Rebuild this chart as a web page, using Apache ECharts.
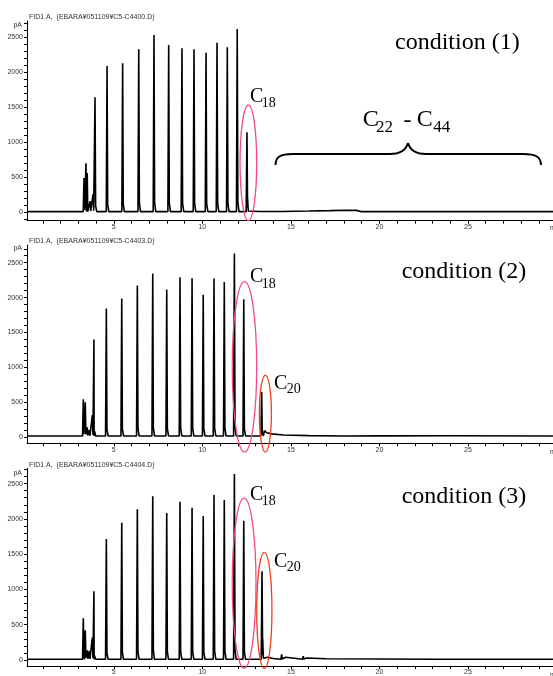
<!DOCTYPE html>
<html><head><meta charset="utf-8">
<script src="https://cdn.jsdelivr.net/npm/echarts@6/dist/echarts.min.js"></script>
<style>html,body{margin:0;padding:0;background:#fff}#c{width:553px;height:676px}</style>
</head><body><div id="c"></div>
<script>
// ---------- data ----------
const fileTitles = ['FID1 A,  (EBARA\u00a5051109\u00a5C5-C4400.D)','FID1 A,  (EBARA\u00a5051109\u00a5C5-C4403.D)','FID1 A,  (EBARA\u00a5051109\u00a5C5-C4404.D)'];
const conditionLabels = ['condition (1)','condition (2)','condition (3)'];
const xTickLabels = [5,10,15,20,25];
const yTickLabels = [0,500,1000,1500,2000,2500];

// panel 1 peaks (retention time, min / height, pA)
const p1Times   = [3.32,3.43,3.50,3.66,3.83,3.94,4.62,5.23,5.50,6.41,7.27,8.10,8.85,9.53,10.21,10.83,11.41,11.97,12.52,12.56];
const p1Heights = [490,699,560,160,260,1640,2086,30,2125,2324,2528,2386,2338,2324,2276,2418,2353,2614,1141,180];
const p1Base = 10;
const p1Extra = [[13.2,12],[14.5,12],[16.0,18],[17.2,24],[18.2,30],[18.7,27],[18.95,10],[22,10]];

// panel 2 peaks
const p2Times   = [3.28,3.39,3.50,3.62,3.79,3.88,4.58,5.45,6.33,7.20,7.99,8.74,9.42,10.05,10.66,11.24,11.81,12.34,13.35];
const p2Heights = [540,497,140,100,315,1400,1843,1987,2173,2345,2116,2292,2278,2039,2273,2225,2632,1977,645];
const p2Base = 15;
const p2Extra = [[13.5,90],[13.65,60],[13.9,45],[14.6,30],[16.0,20],[18,15],[20,16],[24,18]];

// panel 3 peaks
const p3Times   = [3.28,3.39,3.50,3.62,3.79,3.88,4.58,5.15,5.45,6.33,7.20,7.99,8.74,9.42,10.05,10.66,11.24,11.81,12.34,13.37,13.41,14.48,15.70];
const p3Heights = [593,420,137,130,316,975,1714,25,1945,2138,2322,2082,2242,2157,2040,2340,2266,2637,1973,1257,300,80,55];
const p3Base = 10;
const p3Extra = [[13.7,40],[14.0,22],[14.7,40],[15.2,25],[15.9,28],[17,18],[20,14],[23,10]];

// annotation ellipses (data units: time centre, half-width in min, top & bottom in pA)
const ellipseT   = [12.60,12.38,13.56,12.36,13.50];
const ellipseDT  = [0.47,0.69,0.34,0.67,0.43];
const ellipseTop = [1530,2228,889,2294,1525];
const ellipseBot = [-120,-215,-215,-117,-117];
const ellipseGrid= [0,1,1,2,2];
const ellipseCol = ['#f24a8c','#f24a8c','#ef3f1f','#f24a8c','#ef3f1f'];

// ---------- build ----------
function trace(times, heights, base, extra){
  const pts = [[0.1, base],[29.8, base]];
  extra.forEach(p => pts.push(p));
  times.forEach((t,i) => {
    const h = heights[i];
    pts.push([t-0.045, base],[t, h],[t+0.035, base + 0.05*h],[t+0.1, base]);
  });
  pts.sort((a,b)=>a[0]-b[0]);
  return pts;
}
const traces = [trace(p1Times,p1Heights,p1Base,p1Extra), trace(p2Times,p2Heights,p2Base,p2Extra), trace(p3Times,p3Heights,p3Base,p3Extra)];

const grids = [{top:21,height:199.7},{top:245,height:198.3},{top:468.3,height:198.4}];
const yRanges = [[-120,2728],[-90,2754],[-85,2717]];
const xTicks = []; for(let i=1;i<=29;i++) xTicks.push(i);
const yTicks = []; for(let v=-100; v<=2700; v+=100) yTicks.push(v);

const axisFont = {fontFamily:'Liberation Sans, Arial', fontSize:7, color:'#333', formatter: v => String(v)};
const option = {
  animation:false,
  backgroundColor:'#fff',
  grid: grids.map(g => ({left:27, right:0, top:g.top, height:g.height})),
  xAxis: grids.map((g,i)=>({
    type:'value', gridIndex:i, min:0.1, max:29.8,
    axisLine:{show:true, onZero:false, lineStyle:{color:'#000', width:1}},
    axisTick:{show:true, inside:false, length:3, customValues:xTicks, lineStyle:{color:'#000'}},
    axisLabel:Object.assign({show:true, margin:3, customValues:xTickLabels}, axisFont),
    splitLine:{show:false}
  })),
  yAxis: grids.map((g,i)=>({
    type:'value', gridIndex:i, min:yRanges[i][0], max:yRanges[i][1],
    axisLine:{show:true, onZero:false, lineStyle:{color:'#000', width:1}},
    axisTick:{show:true, length:3, customValues:yTicks, lineStyle:{color:'#000'}},
    axisLabel:Object.assign({show:true, margin:4, customValues:yTickLabels}, axisFont),
    splitLine:{show:false}
  })),
  series: traces.map((d,i)=>({
    type:'line', xAxisIndex:i, yAxisIndex:i, data:d, showSymbol:false, symbol:'none',
    lineStyle:{color:'#000', width:1.6}, silent:true
  }))
};
const chart = echarts.init(document.getElementById('c'), null, {renderer:'canvas'});
chart.setOption(option);

// ---------- annotations ----------
const serif = 'Liberation Serif, Times New Roman, serif';
const g = [];
function txt(x,y,s,size,opts){
  g.push({type:'text', x:x, y:y, style:Object.assign({text:s, fontFamily:serif, fontSize:size, fill:'#000', verticalAlign:'middle'}, opts||{})});
}
function small(x,y,s,align){
  g.push({type:'text', x:x, y:y, style:{text:s, fontFamily:'Liberation Sans, Arial', fontSize:7, fill:'#333', align:align||'left', verticalAlign:'middle'}});
}
const titleY = [16.7,240.7,465];
const pAY = [25,248,472.7];
titleY.forEach((y,i)=>{ small(29,y,fileTitles[i]); small(22,pAY[i],'pA','right'); });
small(550,227.7,'m'); small(550,451.7,'m'); small(550,675,'m');

// condition labels
txt(395,43,conditionLabels[0],24);
txt(401.7,271.7,conditionLabels[1],24);
txt(401.7,496.7,conditionLabels[2],24);
// C18 / C20 labels
txt(250,96.7,'C',20); txt(261.7,103.8,'18',14);
txt(250,276.7,'C',20); txt(261.7,284,'18',14);
txt(274,383.3,'C',20); txt(286.7,389.5,'20',14);
txt(250,494.7,'C',20); txt(261.7,501.5,'18',14);
txt(274,561.7,'C',20); txt(286.7,567.5,'20',14);
// C22 - C44
txt(362.7,120,'C',24); txt(376,127.5,'22',17);
txt(407.5,121,'-',24,{align:'center'});
txt(416.7,120,'C',24); txt(433.3,127.5,'44',17);

// brace
const braceStyle = {fill:'none', stroke:'#000', lineWidth:2};
function bez(x1,y1,c1x,c1y,c2x,c2y,x2,y2,style){
  g.push({type:'bezierCurve', shape:{x1:x1,y1:y1,cpx1:c1x,cpy1:c1y,cpx2:c2x,cpy2:c2y,x2:x2,y2:y2}, style:style, z:100});
}
function seg(x1,y1,x2,y2,style){ g.push({type:'line', shape:{x1:x1,y1:y1,x2:x2,y2:y2}, style:style, z:100}); }
bez(275.5,165, 275.5,157, 280,154, 293,154, braceStyle);
seg(293,154,390,154,braceStyle);
bez(390,154, 401,154, 406,150, 408,143, braceStyle);
bez(408,143, 410,150, 415,154, 426,154, braceStyle);
seg(426,154,523,154,braceStyle);
bez(523,154, 536,154, 541,157, 541,165, braceStyle);

// ellipses via data coordinates, drawn as four bezier quarters
const K = 0.5523;
ellipseT.forEach((t,i)=>{
  const gi = ellipseGrid[i];
  const pL = chart.convertToPixel({gridIndex:gi},[t-ellipseDT[i], ellipseTop[i]]);
  const pR = chart.convertToPixel({gridIndex:gi},[t+ellipseDT[i], ellipseBot[i]]);
  const cx=(pL[0]+pR[0])/2, cy=(pL[1]+pR[1])/2, rx=Math.abs(pR[0]-pL[0])/2, ry=Math.abs(pR[1]-pL[1])/2;
  const st = {fill:'none', stroke:ellipseCol[i], lineWidth:1.3};
  bez(cx,cy-ry, cx+K*rx,cy-ry, cx+rx,cy-K*ry, cx+rx,cy, st);
  bez(cx+rx,cy, cx+rx,cy+K*ry, cx+K*rx,cy+ry, cx,cy+ry, st);
  bez(cx,cy+ry, cx-K*rx,cy+ry, cx-rx,cy+K*ry, cx-rx,cy, st);
  bez(cx-rx,cy, cx-rx,cy-K*ry, cx-K*rx,cy-ry, cx,cy-ry, st);
});
chart.setOption({graphic:g});
</script>
</body></html>
